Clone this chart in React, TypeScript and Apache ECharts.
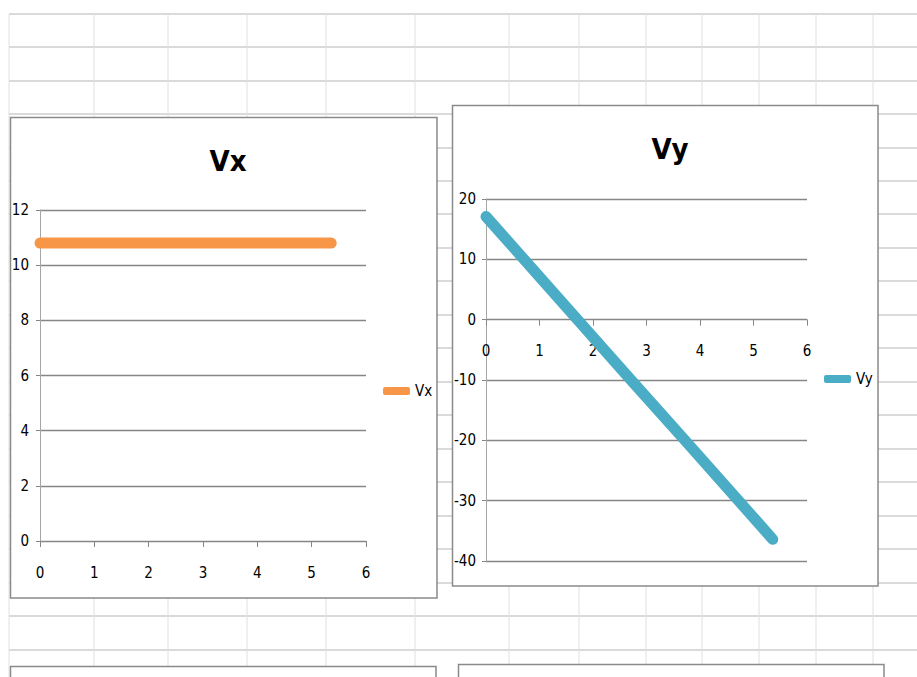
import React, { useEffect, useRef } from "react";
import * as echarts from "echarts";

// Data
const vxTime = [0, 1, 2, 3, 4, 5, 5.36];
const vxValues = [10.8, 10.8, 10.8, 10.8, 10.8, 10.8, 10.8];
const vyTime = [0, 1.71, 2.71, 3.72, 4.72, 5.36];
const vyValues = [17.1, 0, -10, -20, -30, -36.4];

const xTicks = { min: 0, max: 6, interval: 1 };
const vxTicks = { min: 0, max: 12, interval: 2 };
const vyTicks = { min: -40, max: 20, interval: 10 };

const seriesNames = ["Vx", "Vy"];
const seriesColors = ["#F79646", "#4BACC6"];

// spreadsheet decoration (row / column borders of the sheet behind the charts)
const sheetRows = [14, 47, 81, 114, 148, 181, 214, 248, 281, 315, 348, 382, 415, 449, 482, 516, 549, 583, 616, 650];
const sheetCols = [9, 94, 168, 247, 326, 415, 509, 579, 646, 702, 759, 816, 873];

const FONT = '"Liberation Sans Narrow", "Arial Narrow", "DejaVu Sans Condensed", "Liberation Sans", sans-serif';

export default function App() {
  const ref = useRef<HTMLDivElement>(null);

  useEffect(() => {
    if (!ref.current) return;
    const chart = echarts.init(ref.current, undefined, { renderer: "svg" });

    const graphics: any[] = [];
    graphics.push({ type: "rect", z: -10, shape: { x: 0, y: 0, width: 917, height: 677 }, style: { fill: "#ffffff" } });
    sheetRows.forEach((y) =>
      graphics.push({ type: "line", z: -9, shape: { x1: 9, y1: y, x2: 917, y2: y }, style: { stroke: "#dadada", lineWidth: 2 } })
    );
    sheetCols.forEach((x) =>
      graphics.push({ type: "line", z: -9, shape: { x1: x, y1: 14, x2: x, y2: 677 }, style: { stroke: "#e0e0e0", lineWidth: 1 } })
    );
    const frames = [
      { x: 10.5, y: 117.5, width: 426.5, height: 480.5 },
      { x: 452.5, y: 105.5, width: 425.5, height: 480.5 },
      { x: 10.5, y: 666.5, width: 425.5, height: 40 },
      { x: 458.5, y: 664.5, width: 425.5, height: 40 },
    ];
    frames.forEach((f) =>
      graphics.push({ type: "rect", z: -8, shape: f, style: { fill: "#ffffff", stroke: "#8a8a8a", lineWidth: 1.5 } })
    );

    const xAxisBase = (gridIndex: number, offset: number) => ({
      type: "value",
      gridIndex,
      position: "bottom",
      offset,
      min: xTicks.min,
      max: xTicks.max,
      interval: xTicks.interval,
      axisLine: { show: true, onZero: false, lineStyle: { color: "#868686", width: 1 } },
      axisTick: { show: true, inside: false, length: 6, lineStyle: { color: "#868686" } },
      axisLabel: { margin: 24, fontSize: 15, color: "#000", fontFamily: FONT },
      splitLine: { show: false },
    });
    const yAxisBase = (gridIndex: number, t: { min: number; max: number; interval: number }, margin: number) => ({
      type: "value",
      gridIndex,
      min: t.min,
      max: t.max,
      interval: t.interval,
      axisLine: { show: true, onZero: false, lineStyle: { color: "#a6a6a6", width: 1 } },
      axisTick: { show: true, inside: false, length: 4, lineStyle: { color: "#868686" } },
      axisLabel: { margin, fontSize: 15, color: "#000", fontFamily: FONT },
      splitLine: { show: true, lineStyle: { color: "#868686", width: 1.3 } },
    });

    const option: any = {
      animation: false,
      backgroundColor: "#ffffff",
      graphic: { elements: graphics },
      title: [
        {
          text: "Vx",
          left: 223,
          top: 141,
          textAlign: "center",
          textStyle: { fontSize: 29, fontWeight: "bold", color: "#000", fontFamily: FONT },
        },
        {
          text: "Vy",
          left: 665,
          top: 129,
          textAlign: "center",
          textStyle: { fontSize: 29, fontWeight: "bold", color: "#000", fontFamily: FONT },
        },
      ],
      legend: [
        {
          data: [seriesNames[0]],
          left: 383,
          top: 382,
          padding: 0,
          icon: "roundRect",
          itemWidth: 27,
          itemHeight: 8,
          textStyle: { fontSize: 15, color: "#000", fontFamily: FONT, lineHeight: 18 },
        },
        {
          data: [seriesNames[1]],
          left: 824,
          top: 370,
          padding: 0,
          icon: "roundRect",
          itemWidth: 27,
          itemHeight: 8,
          textStyle: { fontSize: 15, color: "#000", fontFamily: FONT, lineHeight: 18 },
        },
      ],
      grid: [
        { left: 40, top: 210, width: 326, height: 331 },
        { left: 486, top: 199, width: 321, height: 362 },
      ],
      // the Vy chart's horizontal axis crosses the vertical axis at 0 (362px * 40/60 above the bottom)
      xAxis: [xAxisBase(0, 0), xAxisBase(1, -241.33)],
      yAxis: [yAxisBase(0, vxTicks, 11), yAxisBase(1, vyTicks, 10)],
      series: [
        {
          name: seriesNames[0],
          type: "line",
          xAxisIndex: 0,
          yAxisIndex: 0,
          data: vxTime.map((t, i) => [t, vxValues[i]]),
          showSymbol: false,
          symbol: "none",
          color: seriesColors[0],
          lineStyle: { width: 11, color: seriesColors[0], cap: "round", join: "round" },
          clip: true,
        },
        {
          name: seriesNames[1],
          type: "line",
          xAxisIndex: 1,
          yAxisIndex: 1,
          data: vyTime.map((t, i) => [t, vyValues[i]]),
          showSymbol: false,
          symbol: "none",
          color: seriesColors[1],
          lineStyle: { width: 11, color: seriesColors[1], cap: "round", join: "round" },
          clip: true,
        },
      ],
    };

    chart.setOption(option);
    return () => chart.dispose();
  }, []);

  return (
    <div
      ref={ref}
      style={{ position: "absolute", left: 0, top: 0, width: 917, height: 677 }}
    />
  );
}
